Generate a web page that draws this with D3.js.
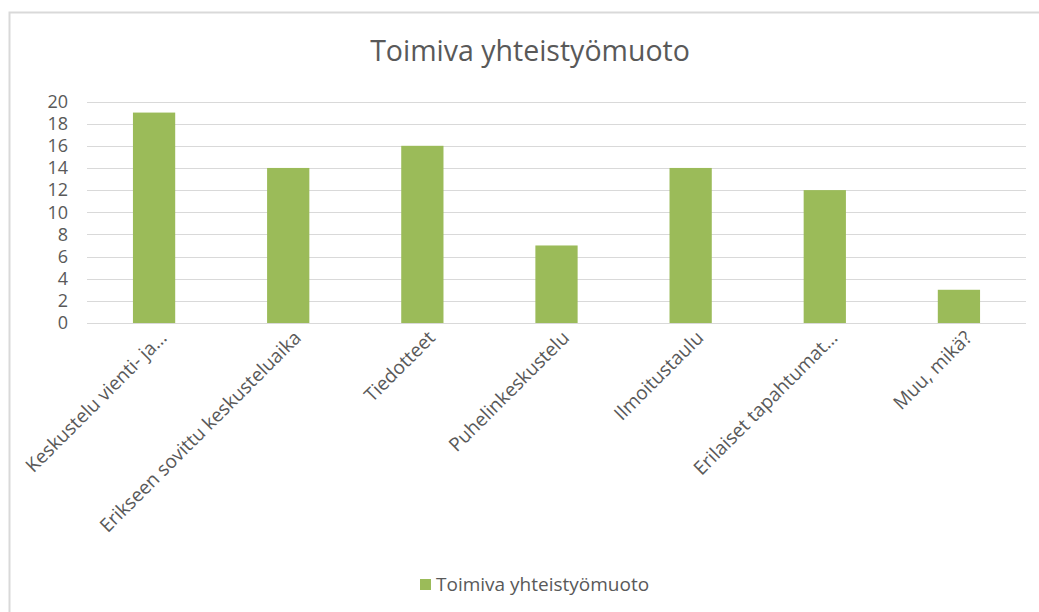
<!DOCTYPE html>
<html lang="fi">
  <head>
    <meta charset="UTF-8"/>
    <title>Toimiva yhteistyömuoto</title>
    <script src="https://d3js.org/d3.v7.min.js"></script>
    <style>
        body {
          margin: 0;
          background: #fff;
        }
        text {
          font-family: "Open Sans", sans-serif;
          fill: #595959;
        }
        .grid line {
          stroke: #d9d9d9;
          stroke-width: 1;
        }
        .axis path,
        .axis line {
          display: none;
        }
    </style>
  </head>
  <body>
    <script>
        const categories = [
          "Keskustelu vienti- ja…",
          "Erikseen sovittu keskusteluaika",
          "Tiedotteet",
          "Puhelinkeskustelu",
          "Ilmoitustaulu",
          "Erilaiset tapahtumat…",
          "Muu, mikä?"
        ]
        const values = [19, 14, 16, 7, 14, 12, 3]
        const yTicks = [0, 2, 4, 6, 8, 10, 12, 14, 16, 18, 20]
        const seriesName = "Toimiva yhteistyömuoto"

        const outerWidth = 1039, outerHeight = 612
        const plot = {left: 87, right: 1026, top: 101.5, bottom: 323}

        const svg = d3.select("body").append("svg")
            .attr("width", outerWidth)
            .attr("height", outerHeight)

        // chart border, runs off the right and bottom edge
        svg.append("rect")
            .attr("x", 9.5)
            .attr("y", 12.5)
            .attr("width", 1040)
            .attr("height", 620)
            .attr("fill", "none")
            .attr("stroke", "#d9d9d9")
            .attr("stroke-width", 2)

        svg.append("text")
            .attr("x", 530)
            .attr("y", 61)
            .attr("text-anchor", "middle")
            .style("font-size", "28.5px")
            .text(seriesName)

        const x = d3.scaleBand()
            .domain(categories)
            .range([plot.left, plot.right])
            .padding(0)

        const y = d3.scaleLinear()
            .domain([0, 20])
            .range([plot.bottom, plot.top])

        // gridlines
        svg.append("g")
            .attr("class", "grid")
            .selectAll("line")
            .data(yTicks)
            .join("line")
            .attr("x1", plot.left)
            .attr("x2", plot.right)
            .attr("y1", d => Math.round(y(d)) + 0.5)
            .attr("y2", d => Math.round(y(d)) + 0.5)

        // y axis labels
        const yAxis = d3.axisLeft(y).tickValues(yTicks).tickSize(0).tickPadding(19)
        svg.append("g")
            .attr("class", "axis")
            .attr("transform", `translate(${plot.left}, 0)`)
            .call(yAxis)
            .call(g => g.selectAll("text")
                .style("font-size", "18px")
                .attr("fill", "#595959"))

        const barW = x.step() * 0.315
        svg.selectAll(".bar")
            .data(values)
            .join("rect")
            .attr("class", "bar")
            .attr("x", (d, i) => x(categories[i]) + x.bandwidth() / 2 - barW / 2)
            .attr("y", d => y(d))
            .attr("width", barW)
            .attr("height", d => y(0) - y(d))
            .attr("fill", "#9bbb59")

        // rotated category labels
        svg.append("g")
            .selectAll("text")
            .data(categories)
            .join("text")
            .attr("transform", d => `translate(${x(d) + x.bandwidth() / 2 + 14}, 339) rotate(-45)`)
            .attr("text-anchor", "end")
            .style("font-size", "19px")
            .text(d => d)

        // legend
        const legend = svg.append("g")
            .attr("transform", "translate(420, 579)")
        legend.append("rect")
            .attr("width", 11)
            .attr("height", 11)
            .attr("fill", "#9bbb59")
        legend.append("text")
            .attr("x", 16)
            .attr("y", 12)
            .style("font-size", "19px")
            .text(seriesName)
    </script>
  </body>
</html>
